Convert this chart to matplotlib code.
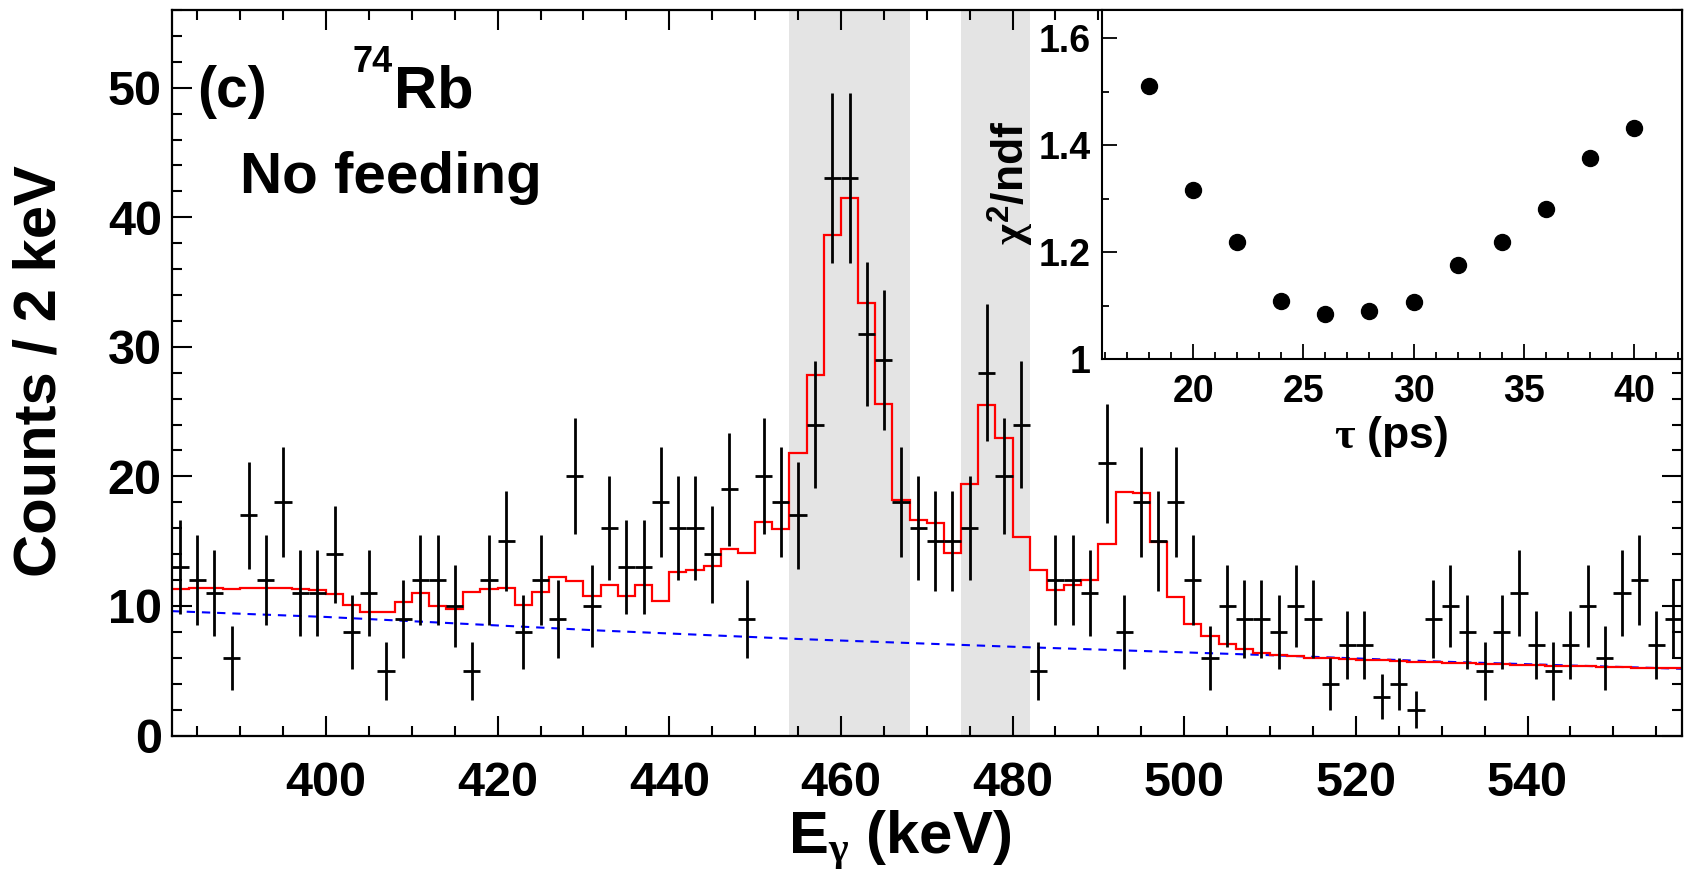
import numpy as np
import matplotlib
matplotlib.use('Agg')
import matplotlib.pyplot as plt
from matplotlib.ticker import MultipleLocator

plt.rcParams['font.family'] = ['Liberation Sans', 'DejaVu Sans']
plt.rcParams['font.weight'] = 'bold'
plt.rcParams['axes.labelweight'] = 'bold'
plt.rcParams['mathtext.fontset'] = 'custom'
plt.rcParams['mathtext.rm'] = 'Liberation Sans:bold'
plt.rcParams['mathtext.bf'] = 'Liberation Sans:bold'
plt.rcParams['mathtext.it'] = 'Liberation Serif'

# spectrum, 2 keV bins, 382-558 keV
bin_edges = np.arange(382, 560, 2)
bin_centers = np.arange(383, 559, 2)
counts = [13, 12, 11, 6, 17, 12, 18, 11, 11, 14, 8, 11, 5, 9, 12, 12, 10, 5,
          12, 15, 8, 12, 9, 20, 10, 16, 13, 13, 18, 16, 16, 14, 19, 9, 20, 18,
          17, 24, 43, 43, 31, 29, 18, 16, 15, 15, 16, 28, 20, 24, 5, 12, 12, 11,
          21, 8, 18, 15, 18, 12, 6, 10, 9, 9, 8, 10, 9, 4, 7, 7, 3, 4, 2, 9,
          10, 8, 5, 8, 11, 7, 5, 7, 10, 6, 11, 12, 7, 9]
fit = [11.3, 11.35, 11.35, 11.3, 11.35, 11.4, 11.4, 11.3, 11.2, 10.9, 10.1,
       9.5, 9.5, 10.3, 11.0, 10.0, 9.8, 11.1, 11.3, 11.4, 10.1, 11.1, 12.25,
       11.9, 10.8, 11.6, 10.75, 11.6, 10.35, 12.65, 12.8, 13.1, 14.4, 14.1,
       16.45, 15.95, 21.8, 27.8, 38.6, 41.5, 33.4, 25.6, 18.2, 16.6, 16.4,
       14.1, 19.4, 25.5, 23.0, 15.35, 12.75, 11.25, 11.6, 12.0, 14.8, 18.8,
       18.7, 14.9, 10.7, 8.6, 7.7, 7.1, 6.65, 6.35, 6.2, 6.1, 6.0, 5.95, 5.9,
       5.85, 5.8, 5.75, 5.7, 5.65, 5.62, 5.58, 5.55, 5.5, 5.47, 5.43, 5.4,
       5.36, 5.33, 5.3, 5.27, 5.24, 5.21, 5.19]
bkg_e = [382, 400, 432, 455, 480, 510, 530, 558]
bkg = [9.6, 9.15, 8.1, 7.45, 6.85, 6.2, 5.7, 5.15]
gates = [(454, 468), (474, 482)]

# inset: chi2/ndf vs lifetime
tau = [18, 20, 22, 24, 26, 28, 30, 32, 34, 36, 38, 40]
chi2 = [1.511, 1.316, 1.218, 1.109, 1.084, 1.090, 1.106, 1.176, 1.219,
        1.280, 1.376, 1.432]

W, H = 1685, 869
fig = plt.figure(figsize=(W / 100, H / 100), dpi=100)
ax = fig.add_axes([171.5 / W, 1 - 735.5 / H, (1682 - 171.5) / W, (735.5 - 10) / H])

for lo, hi in gates:
    ax.axvspan(lo, hi, color='#e4e4e4', lw=0, zorder=0)

ax.plot(bkg_e, bkg, color='blue', lw=1.5, ls=(0, (4, 3.3)), zorder=2)
ax.stairs(fit, bin_edges, color='red', lw=1.6, baseline=None, zorder=2.5)
y = np.array(counts, dtype=float)
ax.errorbar(bin_centers, y, yerr=np.sqrt(y), xerr=1, fmt='none', ecolor='black',
            elinewidth=2.0, capsize=0, zorder=3)

ax.set_xlim(382, 558)
ax.set_ylim(0, 56)
ax.xaxis.set_major_locator(MultipleLocator(20))
ax.xaxis.set_minor_locator(MultipleLocator(5))
ax.yaxis.set_major_locator(MultipleLocator(10))
ax.yaxis.set_minor_locator(MultipleLocator(2))
ax.tick_params(which='both', direction='in', top=True, right=True, width=1.5,
               labelsize=35)
ax.tick_params(which='major', length=14.5)
ax.tick_params(which='minor', length=7.2)
ax.tick_params(axis='x', pad=18)
ax.tick_params(axis='y', pad=7)
for s in ax.spines.values():
    s.set_linewidth(1.6)

fig.text(40 / W, 1 - 371 / H, 'Counts / 2 keV', rotation=90, fontsize=43,
         ha='center', va='center')
fig.text(900 / W, 1 - 853 / H, r'E$_{\gamma}$ (keV)', fontsize=43,
         ha='center', va='baseline')

fig.text(197 / W, 1 - 107 / H, '(c)', fontsize=41, va='baseline')
fig.text(352 / W, 1 - 72 / H, '74', fontsize=26, va='baseline')
fig.text(394 / W, 1 - 107 / H, 'Rb', fontsize=43, va='baseline')
fig.text(240 / W, 1 - 193 / H, 'No feeding', fontsize=42, va='baseline')

# inset
ins = fig.add_axes([1101.5 / W, 1 - 359 / H, (1682 - 1101.5) / W, (359 - 10) / H])
ins.plot(tau, chi2, 'o', color='black', ms=11.5)
ins.set_xlim(15.84, 42.18)
ins.set_ylim(1.0, 1.653)
ins.xaxis.set_major_locator(MultipleLocator(5))
ins.xaxis.set_minor_locator(MultipleLocator(1))
ins.yaxis.set_major_locator(MultipleLocator(0.2))
ins.yaxis.set_minor_locator(MultipleLocator(0.1))
ins.yaxis.set_major_formatter(plt.FuncFormatter(lambda v, p: f'{v:g}'))
ins.tick_params(which='both', direction='in', width=1.3, labelsize=27)
ins.tick_params(which='major', length=11)
ins.tick_params(which='minor', length=5)
ins.tick_params(axis='x', pad=11)
ins.tick_params(axis='y', pad=8)
for s in ins.spines.values():
    s.set_linewidth(1.5)

fig.text(1391 / W, 1 - 448 / H, r'$\tau$ (ps)', fontsize=32, fontweight='bold',
         ha='center', va='baseline')
fig.text(1010 / W, 1 - 183 / H, r'$\chi^{\mathrm{2}}$/ndf', fontsize=32,
         fontweight='bold', rotation=90, ha='center', va='center')

fig.savefig('out.png', dpi=100)
